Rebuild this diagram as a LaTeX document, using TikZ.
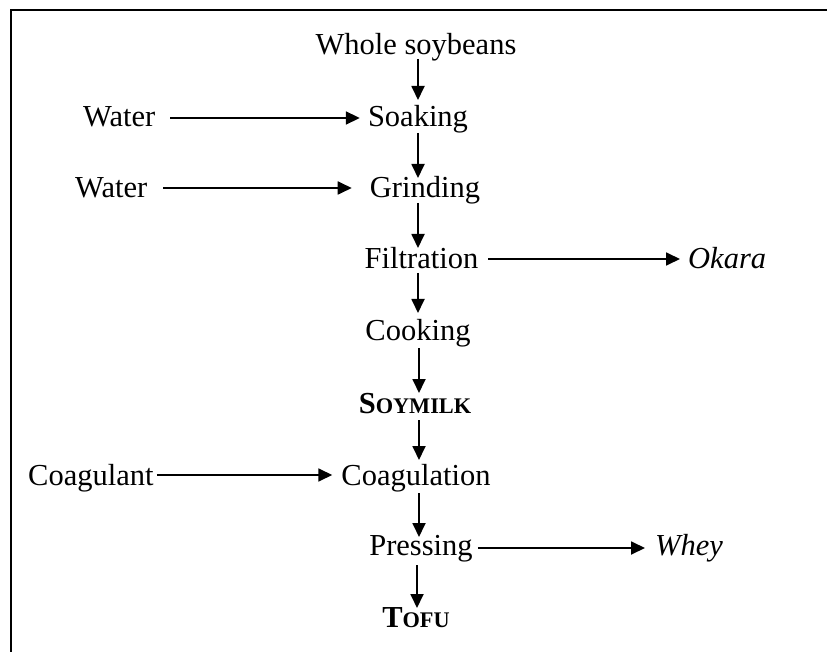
\documentclass[tikz,border=0pt]{standalone}
\usepackage{fontspec}
\setmainfont{Liberation Serif}
\usetikzlibrary{calc,arrows.meta}
\begin{document}
\begin{tikzpicture}[x=1pt,y=-1pt,
  lbl/.style={inner sep=0pt,anchor=base,font=\fontsize{30.5}{36}\selectfont},
  lblw/.style={lbl,anchor=base west},
  arr/.style={line width=1.8pt,-{Triangle[length=14pt,width=13pt]}},
  frame/.style={line width=2pt}]
\useasboundingbox (0,0) rectangle (827,652);
\draw[frame] (11,652) -- (11,10) -- (827,10);
\coordinate (c) at (418,0);
% main column
\node[lbl] (ws) at (416,55) {Whole soybeans};
\node[lbl] (soak) at (418,127) {Soaking};
\node[lbl] (grind) at (425,198) {Grinding};
\node[lbl] (filt) at (421.5,269) {Filtration};
\node[lbl] (cook) at (418,340) {Cooking};
\node[lbl] (soy) at (415,413) {{\bfseries S{\fontsize{22.3}{26}\selectfont OYMILK}}};
\node[lbl] (coag) at (416,485) {Coagulation};
\node[lbl] (press) at (421,555) {Pressing};
\node[lbl] (tofu) at (416,627) {{\bfseries T{\fontsize{22.3}{26}\selectfont OFU}}};
% side inputs / outputs
\node[lblw] (w1) at (83,127) {Water};
\node[lblw] (w2) at (75,198) {Water};
\node[lblw] (cg) at (28,485) {Coagulant};
\node[lblw] (okara) at (688,269) {\itshape Okara};
\node[lblw] (whey) at (655,555) {\itshape Whey};
% vertical arrows
\draw[arr] ($(c |- ws.base)+(0,4)$) -- ($(c |- soak.base)+(0,-27)$);
\draw[arr] ($(c |- soak.base)+(0,6)$) -- ($(c |- grind.base)+(0,-20)$);
\draw[arr] ($(c |- grind.base)+(0,5)$) -- ($(c |- filt.base)+(0,-21)$);
\draw[arr] ($(c |- filt.base)+(0,4)$) -- ($(c |- cook.base)+(0,-27)$);
\draw[arr] ($(c |- cook.base)+(1,8)$) -- ($(c |- soy.base)+(1,-20)$);
\draw[arr] ($(c |- soy.base)+(1,7)$) -- ($(c |- coag.base)+(1,-25)$);
\draw[arr] ($(c |- coag.base)+(1,8)$) -- ($(c |- press.base)+(1,-18)$);
\draw[arr] ($(c |- press.base)+(-1,10)$) -- ($(c |- tofu.base)+(-1,-19)$);
% horizontal arrows
\draw[arr] ($(w1.base east)+(15,-9)$) -- ($(soak.base west)+(-8,-9)$);
\draw[arr] ($(w2.base east)+(16,-10)$) -- ($(grind.base west)+(-18,-10)$);
\draw[arr] ($(filt.base east)+(10,-10)$) -- ($(okara.base west)+(-8,-10)$);
\draw[arr] ($(cg.base east)+(3,-10)$) -- ($(coag.base west)+(-9,-10)$);
\draw[arr] ($(press.base east)+(5,-7)$) -- ($(whey.base west)+(-10,-7)$);
\end{tikzpicture}
\end{document}
